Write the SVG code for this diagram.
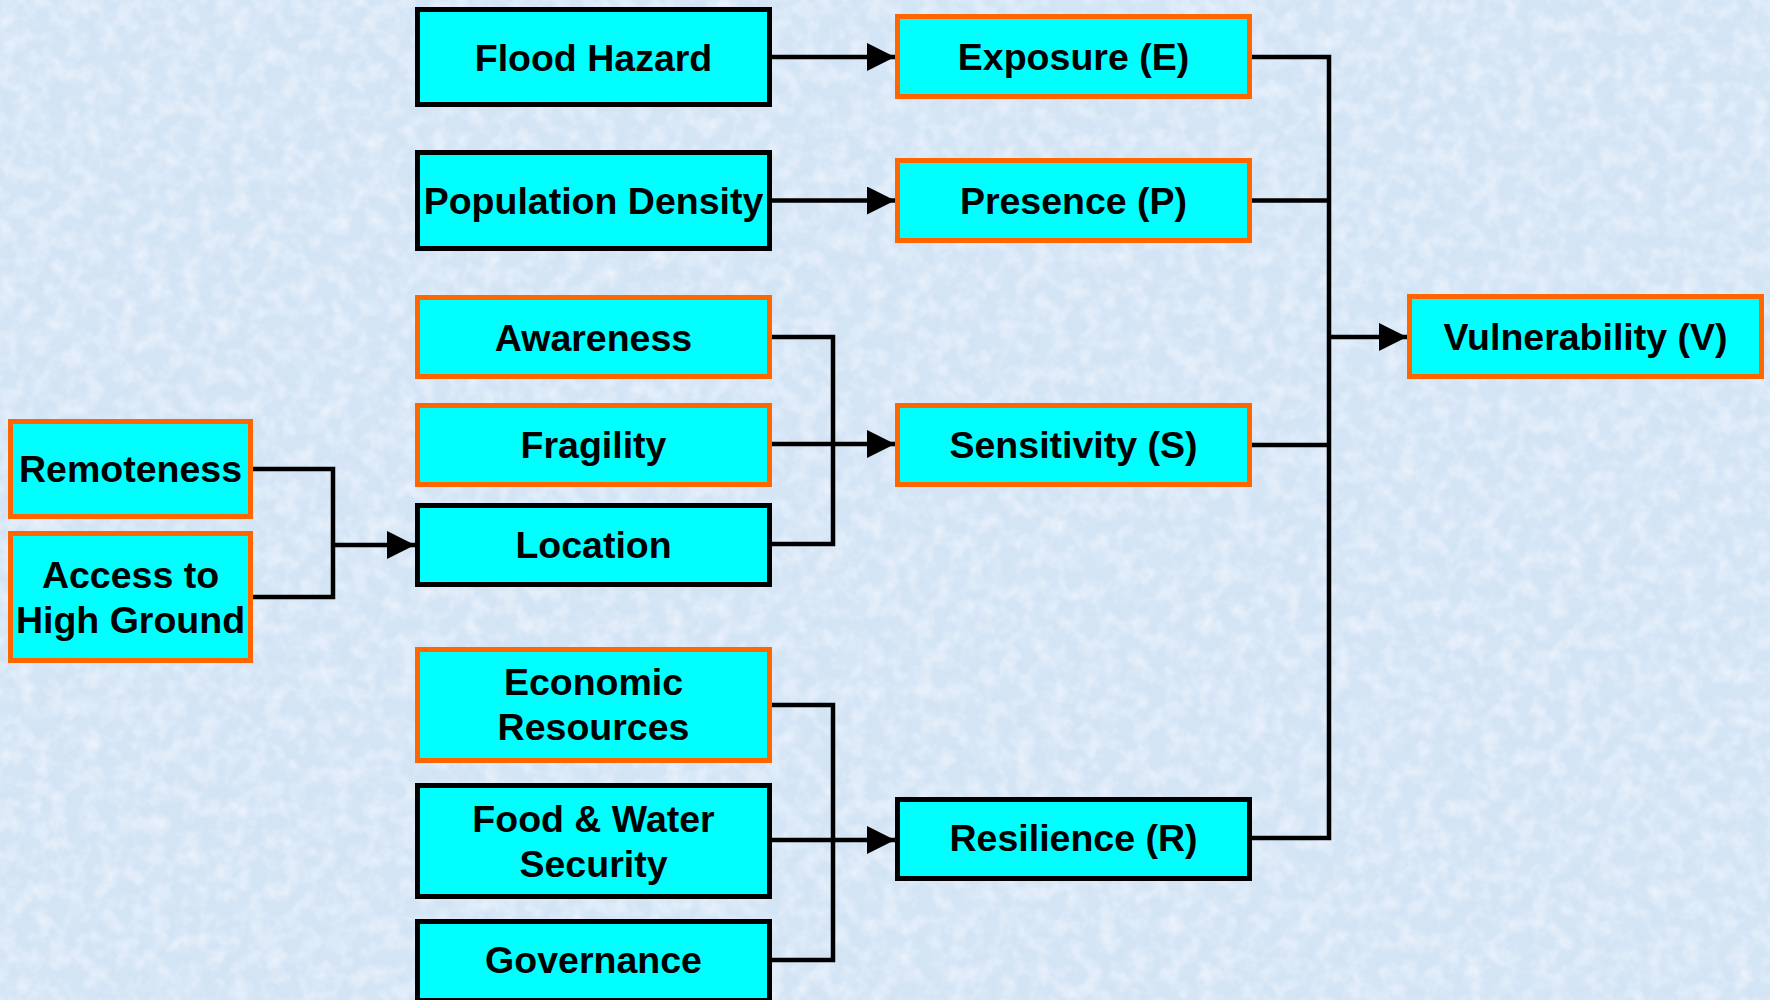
<svg xmlns="http://www.w3.org/2000/svg" width="1770" height="1000" viewBox="0 0 1770 1000">
<defs>
<style>
.box{fill:#00ffff;stroke-width:5}
.ok{stroke:#ff6600}
.bk{stroke:#000}
.t{font-family:"Liberation Sans",Arial,sans-serif;font-weight:bold;font-size:37.5px;fill:#000;text-anchor:middle}
.c{fill:none;stroke:#000;stroke-width:4.5;stroke-linejoin:miter}
.a{marker-end:url(#arr)}
</style>
<marker id="arr" markerUnits="userSpaceOnUse" markerWidth="28" markerHeight="28" refX="28" refY="14" orient="auto">
<path d="M0,0 L28,14 L0,28 z" fill="#000"/>
</marker>
<filter id="tex" x="0" y="0" width="100%" height="100%">
<feTurbulence type="fractalNoise" baseFrequency="0.06" numOctaves="3" seed="3"/>
<feColorMatrix type="matrix" values="0 0 0 0 0.93  0 0 0 0 0.95  0 0 0 0 1  0 0 0 1.2 -0.45"/>
</filter>
</defs>
<rect width="1770" height="1000" fill="#d3e4f5"/>
<rect width="1770" height="1000" filter="url(#tex)"/>

<g id="connectors">
<path class="c a" d="M772,57 H895"/>
<path class="c a" d="M772,200.5 H895"/>
<path class="c" d="M772,337 H833 V544 H772"/>
<path class="c a" d="M772,444 H895"/>
<path class="c" d="M253,469 H333 V597 H253"/>
<path class="c a" d="M333,545 H415"/>
<path class="c" d="M772,705 H833 V960 H772"/>
<path class="c a" d="M772,840 H895"/>
<path class="c" d="M1252,57 H1329 V838 H1252"/>
<path class="c" d="M1252,200.5 H1329"/>
<path class="c" d="M1252,445 H1329"/>
<path class="c a" d="M1329,337 H1407"/>
</g>

<g id="flood-hazard"><rect class="box bk" x="417.5" y="9.5" width="352" height="95"/><text class="t" x="593.5" y="70.5">Flood Hazard</text></g>
<g id="population-density"><rect class="box bk" x="417.5" y="152.5" width="352" height="96"/><text class="t" x="593.5" y="214">Population Density</text></g>
<g id="awareness"><rect class="box ok" x="417.5" y="297.5" width="352" height="79"/><text class="t" x="593.5" y="350.5">Awareness</text></g>
<g id="fragility"><rect class="box ok" x="417.5" y="405.5" width="352" height="79"/><text class="t" x="593.5" y="457.5">Fragility</text></g>
<g id="location"><rect class="box bk" x="417.5" y="505.5" width="352" height="79"/><text class="t" x="593.5" y="557.5">Location</text></g>
<g id="economic-resources"><rect class="box ok" x="417.5" y="649.5" width="352" height="111"/><text class="t" x="593.5" y="695">Economic</text><text class="t" x="593.5" y="740">Resources</text></g>
<g id="food-water-security"><rect class="box bk" x="417.5" y="785.5" width="352" height="111"/><text class="t" x="593.5" y="832">Food &amp; Water</text><text class="t" x="593.5" y="877">Security</text></g>
<g id="governance"><rect class="box bk" x="417.5" y="921.5" width="352" height="79"/><text class="t" x="593.5" y="973">Governance</text></g>

<g id="remoteness"><rect class="box ok" x="10.5" y="421.5" width="240" height="95"/><text class="t" x="130.5" y="482">Remoteness</text></g>
<g id="access-high-ground"><rect class="box ok" x="10.5" y="533.5" width="240" height="127"/><text class="t" x="130.5" y="588">Access to</text><text class="t" x="130.5" y="633">High Ground</text></g>

<g id="exposure"><rect class="box ok" x="897.5" y="16.5" width="352" height="80"/><text class="t" x="1073.5" y="70">Exposure (E)</text></g>
<g id="presence"><rect class="box ok" x="897.5" y="160.5" width="352" height="80"/><text class="t" x="1073.5" y="214">Presence (P)</text></g>
<g id="sensitivity"><rect class="box ok" x="897.5" y="405.5" width="352" height="79"/><text class="t" x="1073.5" y="458">Sensitivity (S)</text></g>
<g id="resilience"><rect class="box bk" x="897.5" y="799.5" width="352" height="79"/><text class="t" x="1073.5" y="851">Resilience (R)</text></g>
<g id="vulnerability"><rect class="box ok" x="1409.5" y="296.5" width="352" height="80"/><text class="t" x="1585.5" y="350">Vulnerability (V)</text></g>
</svg>
